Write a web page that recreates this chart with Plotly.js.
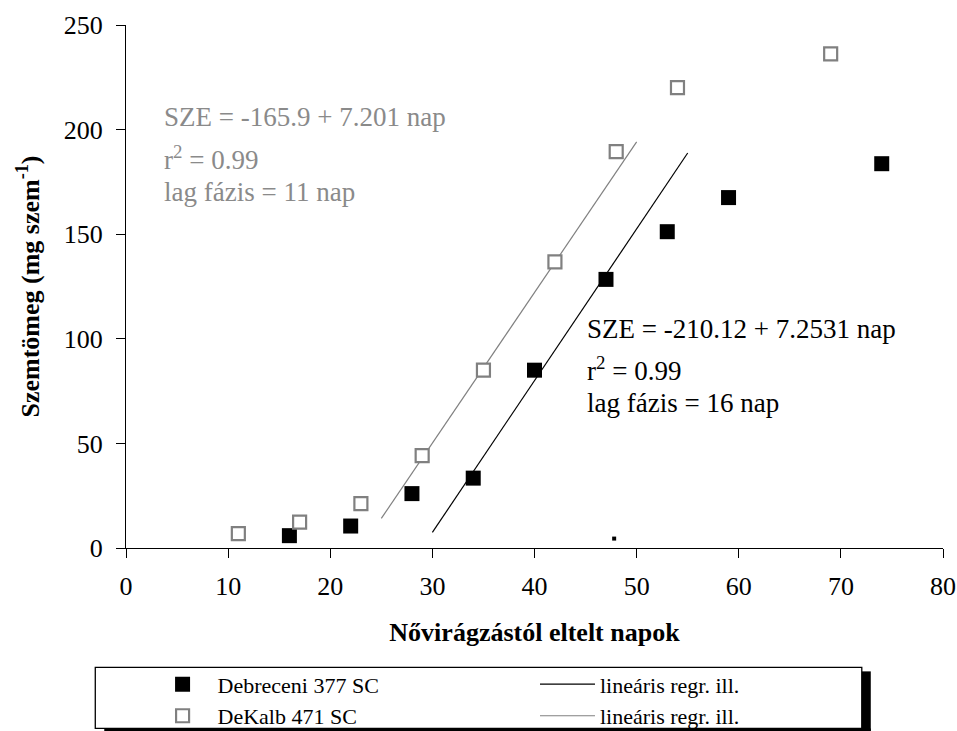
<!DOCTYPE html>
<html>
<head>
<meta charset="utf-8">
<script src="https://cdn.plot.ly/plotly-3.0.1.min.js"></script>
<style>
  html, body { margin: 0; padding: 0; background: #ffffff; }
  #chart { width: 957px; height: 731px; }
</style>
</head>
<body>
<div id="chart"></div>
<script>
// ---- data ----
const debreceniDays = [16, 22, 28, 34, 40, 47, 53, 59, 74];
const debreceniMass = [5.9, 10.5, 26.0, 33.4, 85.0, 128.4, 151.2, 167.5, 183.7];
const dekalbDays = [11, 17, 23, 29, 35, 42, 48, 54, 69];
const dekalbMass = [6.9, 12.4, 21.2, 44.2, 85.0, 136.8, 189.5, 220.1, 236.2];
const strayDays = [47.8];
const strayMass = [4.5];

const seriesNames = ['Debreceni 377 SC', 'DeKalb 471 SC'];
const regName = 'lineáris regr. ill.';
const regIntercept = [-210.12, -165.9];
const regSlope = [7.2531, 7.201];
const regFrom = [30, 25];
const regTo = [55, 50];

const xTicks = [0, 10, 20, 30, 40, 50, 60, 70, 80];
const yTicks = [0, 50, 100, 150, 200, 250];

const GREY = '#808080';
const TXTGREY = '#8a8a8a';
const FONT = "'Liberation Serif', 'Times New Roman', serif";

function regLine(i) {
  const xs = [regFrom[i], regTo[i]];
  return { x: xs, y: xs.map(v => regIntercept[i] + regSlope[i] * v) };
}

const rBlack = regLine(0);
const rGrey = regLine(1);

const traces = [
  { x: rBlack.x, y: rBlack.y, mode: 'lines', name: regName, legend: 'legend2',
    line: { color: '#000000', width: 1.2 }, hoverinfo: 'skip' },
  { x: rGrey.x, y: rGrey.y, mode: 'lines', name: regName, legend: 'legend2',
    line: { color: GREY, width: 1.2 }, hoverinfo: 'skip' },
  { x: debreceniDays, y: debreceniMass, mode: 'markers', name: seriesNames[0],
    marker: { symbol: 'square', size: 15, color: '#000000', line: { width: 0 } }, cliponaxis: false },
  { x: dekalbDays, y: dekalbMass, mode: 'markers', name: seriesNames[1],
    marker: { symbol: 'square', size: 13, color: '#ffffff', line: { width: 2.2, color: GREY } }, cliponaxis: false },
  { x: strayDays, y: strayMass, mode: 'markers', showlegend: false,
    marker: { symbol: 'square', size: 4, color: '#000000', line: { width: 0 } } }
];

function ann(x, y, text, color) {
  return { x: x, y: y, xref: 'x', yref: 'y', text: text, showarrow: false,
           xanchor: 'left', yanchor: 'middle', align: 'left',
           font: { family: FONT, size: 27, color: color } };
}

const layout = {
  width: 957, height: 731,
  paper_bgcolor: '#ffffff', plot_bgcolor: '#ffffff',
  margin: { l: 126, r: 14, t: 25, b: 183, autoexpand: false },
  showlegend: true,
  font: { family: FONT, size: 26, color: '#000000' },
  xaxis: {
    range: [0, 80], tickvals: xTicks, ticktext: xTicks.map(String),
    showgrid: false, zeroline: false, showline: true, linecolor: '#000000', linewidth: 1,
    ticks: 'outside', ticklen: 9, tickwidth: 1, tickcolor: '#000000', ticklabelstandoff: 6,
    tickfont: { family: FONT, size: 26, color: '#000000' },
    title: { text: 'Nővirágzástól eltelt napok', standoff: 22,
             font: { family: FONT, size: 26, color: '#000000', weight: 'bold' } }
  },
  yaxis: {
    range: [0, 250], tickvals: yTicks, ticktext: yTicks.map(String),
    showgrid: false, zeroline: false, showline: true, linecolor: '#000000', linewidth: 1,
    ticks: 'outside', ticklen: 9, tickwidth: 1, tickcolor: '#000000', ticklabelstandoff: 8,
    tickfont: { family: FONT, size: 26, color: '#000000' },
    title: { text: 'Szemtömeg (mg szem<sup>-1</sup>)', standoff: 16,
             font: { family: FONT, size: 26, color: '#000000', weight: 'bold' } }
  },
  legend: {
    x: 0.0264, y: -0.2206, xanchor: 'left', yanchor: 'top',
    orientation: 'v', bgcolor: 'rgba(0,0,0,0)', borderwidth: 0,
    itemwidth: 60, traceorder: 'normal',
    font: { family: FONT, size: 22, color: '#000000' }
  },
  legend2: {
    x: 0.5006, y: -0.2206, xanchor: 'left', yanchor: 'top',
    orientation: 'v', bgcolor: 'rgba(0,0,0,0)', borderwidth: 0,
    itemwidth: 55, traceorder: 'normal',
    font: { family: FONT, size: 22, color: '#000000' }
  },
  annotations: [
    ann(3.5, 206.1, 'SZE = -165.9 + 7.201 nap', TXTGREY),
    ann(3.5, 186.5, 'r<sup>2</sup> = 0.99', TXTGREY),
    ann(3.5, 170.2, 'lag fázis = 11 nap', TXTGREY),
    ann(44.9, 104.9, 'SZE = -210.12 + 7.2531 nap', '#000000'),
    ann(44.9, 85.5, 'r<sup>2</sup> = 0.99', '#000000'),
    ann(44.9, 69.2, 'lag fázis = 16 nap', '#000000')
  ],
  shapes: [
    { type: 'rect', xref: 'paper', yref: 'paper', x0: -0.0376, x1: 0.9006, y0: -0.3449, y1: -0.2282,
      line: { color: '#000000', width: 1.3 }, fillcolor: 'rgba(0,0,0,0)', layer: 'above' },
    { type: 'rect', xref: 'paper', yref: 'paper', x0: 0.9006, x1: 0.9116, y0: -0.36, y1: -0.2359,
      line: { width: 0 }, fillcolor: '#000000', layer: 'above' },
    { type: 'rect', xref: 'paper', yref: 'paper', x0: -0.0266, x1: 0.9116, y0: -0.36, y1: -0.3449,
      line: { width: 0 }, fillcolor: '#000000', layer: 'above' }
  ]
};

Plotly.newPlot('chart', traces, layout, { displayModeBar: false });
</script>
</body>
</html>
